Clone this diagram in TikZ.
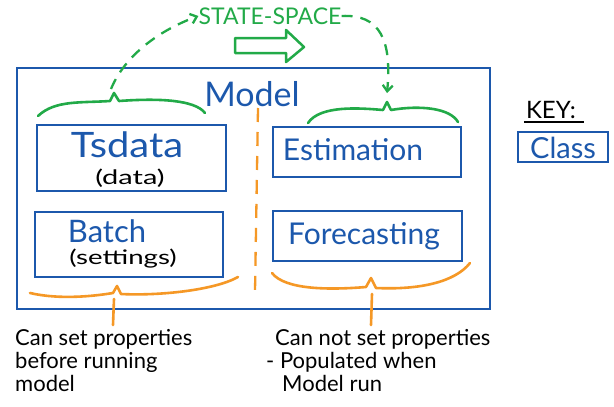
\documentclass[tikz,border=0pt]{standalone}
\usepackage{fontspec}
\setmainfont{Lato}
\usetikzlibrary{arrows.meta}
\definecolor{pblue}{RGB}{28,88,172}
\definecolor{pgreen}{RGB}{34,170,72}
\definecolor{porange}{RGB}{245,152,38}
\newcommand{\hwide}[2]{\scalebox{#1}[1]{#2}}
\begin{document}
\begin{tikzpicture}[x=1pt,y=-1pt,
  cls/.style={draw=pblue, line width=2.8pt, inner sep=0pt},
  bluetxt/.style={text=pblue, inner sep=0pt},
  blacktxt/.style={text=black, inner sep=0pt},
  gbrace/.style={draw=pgreen, line width=2.6pt, line join=round, line cap=round},
  obrace/.style={draw=porange, line width=2.6pt, line join=round, line cap=round},
  gdash/.style={draw=pgreen, line width=2.3pt, dash pattern=on 11pt off 8pt, -{Straight Barb[length=6pt,width=10pt,line width=2.3pt]}},
  note/.style={text=black, inner sep=0pt, align=left, font=\fontsize{22}{23}\selectfont, anchor=north west}
]
\useasboundingbox (0,0) rectangle (614,407);
\fill[white] (0,0) rectangle (614,407);

% outer model box
\node[cls, minimum width=473pt, minimum height=241pt] (model) at (253.5,188.5) {};
\node[bluetxt, font=\fontsize{34}{34}\selectfont] (modellbl) at (252,94) {Model};

% class boxes
\node[cls, minimum width=189pt, minimum height=66pt] (tsdata) at (131.5,158) {};
\node[bluetxt, font=\fontsize{35}{35}\selectfont] (tsdatalbl) at (127,145) {\hwide{1.14}{Tsdata}};
\node[blacktxt, font=\fontsize{20}{20}\selectfont] (tsdatasub) at (130,178) {\hwide{1.45}{(data)}};

\node[cls, minimum width=188pt, minimum height=65pt] (batch) at (129,244.5) {};
\node[bluetxt, font=\fontsize{31}{31}\selectfont] (batchlbl) at (107,231) {Batch};
\node[blacktxt, font=\fontsize{20}{20}\selectfont] (batchsub) at (123,259) {\hwide{1.38}{(settings)}};

\node[cls, minimum width=188pt, minimum height=50pt] (estim) at (367,152) {};
\node[bluetxt, font=\fontsize{30}{30}\selectfont] (estimlbl) at (353,150) {Estimation};

\node[cls, minimum width=189pt, minimum height=50pt] (fore) at (367.5,236) {};
\node[bluetxt, font=\fontsize{30}{30}\selectfont] (forelbl) at (364,236) {Forecasting};

% orange dashed divider
\coordinate (divtop) at (258,108);
\coordinate (divbot) at (255,292);
\draw[porange, line width=2.3pt, dash pattern=on 14pt off 10pt] (divtop) -- (divbot);

% green braces
\draw[gbrace] (38,116) .. controls (55,100) and (80,103) .. (110,101) -- (114,93) -- (119,101) .. controls (160,98) and (195,100) .. (205,113);
\draw[gbrace] (308,123) .. controls (320,105) and (360,108) .. (383,110) -- (387,102) -- (391,110) .. controls (420,105) and (450,108) .. (458,122);

% STATE-SPACE
\node[text=pgreen, inner sep=0pt, font=\fontsize{23}{23}\selectfont] (ss) at (270,16) {STATE-SPACE};
\coordinate (gstart) at (111,89);
\coordinate (gend) at (387,93);
\draw[gdash] (gstart) .. controls (125,55) and (160,30) .. (ss.west);
\draw[gdash] (ss.east) .. controls (380,14) and (392,40) .. (gend);

% hollow arrow
\draw[pgreen, line width=2.5pt, line join=round] (235,38) -- (286,38) -- (286,30) -- (304,47) -- (286,62) -- (286,53) -- (235,53) -- cycle;

% orange braces + stems
\draw[obrace] (30,293) .. controls (60,300) and (95,296) .. (113,293) -- (117,286) -- (121,294) .. controls (160,296) and (215,290) .. (238,277);
\coordinate (lstem) at (113,325);
\draw[obrace] (114,299) -- (lstem);
\draw[obrace] (272,273) .. controls (285,290) and (330,290) .. (366,287) -- (371,278) -- (376,288) .. controls (420,290) and (455,282) .. (470,263);
\coordinate (rstem) at (371,325);
\draw[obrace] (372,294) -- (rstem);

% notes
\node[note] (lnote) at (15,329) {Can set properties\\before running\\model};
\node[note] (rnote) at (266,329) {\hspace*{9pt}Can not set properties\\- Populated when\\\hspace*{16pt}Model run};

% key
\node[blacktxt, font=\fontsize{24}{24}\selectfont] (key) at (551,110) {KEY:};
\draw[black, line width=2pt] (key.south west) ++(-2,3) -- ++(60,0);
\node[cls, minimum width=90pt, minimum height=30pt] (classbox) at (563,147) {};
\node[bluetxt, font=\fontsize{29}{29}\selectfont] (classlbl) at (563,148) {Class};
\end{tikzpicture}
\end{document}
